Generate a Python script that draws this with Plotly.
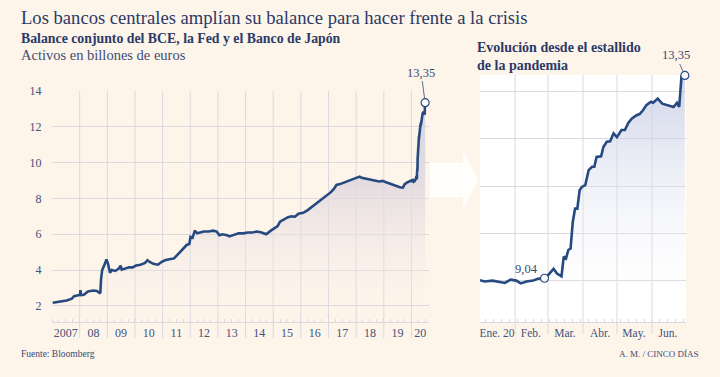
import plotly.graph_objects as go

# ---------------- data ----------------
hist_dates = [
    "2007-01-10", "2007-04-01", "2007-07-15", "2007-09-20", "2007-10-20", "2007-12-15",
    "2008-01-05", "2008-01-12", "2008-01-20", "2008-02-25", "2008-04-20", "2008-07-01",
    "2008-08-15", "2008-09-20", "2008-10-01", "2008-10-10", "2008-10-25", "2008-11-20",
    "2008-12-20", "2009-01-10", "2009-02-05", "2009-03-01", "2009-04-15", "2009-06-01",
    "2009-06-25", "2009-07-10", "2009-09-01", "2009-10-15", "2009-12-01", "2010-01-15",
    "2010-03-15", "2010-05-15", "2010-06-15", "2010-07-15", "2010-09-01", "2010-11-01",
    "2010-12-15", "2011-02-01", "2011-04-01", "2011-06-01", "2011-07-15", "2011-08-15",
    "2011-10-01", "2011-11-15", "2011-12-20", "2012-01-05", "2012-02-01", "2012-03-01",
    "2012-04-01", "2012-05-15", "2012-07-01", "2012-09-01", "2012-11-01", "2012-12-15",
    "2013-01-20", "2013-03-01", "2013-05-01", "2013-06-01", "2013-08-01", "2013-10-01",
    "2013-12-01", "2014-02-01", "2014-04-01", "2014-06-01", "2014-08-01", "2014-10-01",
    "2014-12-01", "2015-01-15", "2015-03-01", "2015-04-01", "2015-06-01", "2015-07-15",
    "2015-09-01", "2015-10-15", "2015-12-01", "2016-02-01", "2016-04-01", "2016-06-01",
    "2016-08-01", "2016-10-01", "2016-12-15", "2017-02-01", "2017-03-15", "2017-04-15",
    "2017-06-01", "2017-08-01", "2017-10-01", "2017-12-01", "2018-01-15", "2018-02-15",
    "2018-03-15", "2018-05-01", "2018-07-01", "2018-09-01", "2018-11-01", "2018-12-15",
    "2019-02-01", "2019-04-01", "2019-06-01", "2019-08-01", "2019-09-10", "2019-10-01",
    "2019-11-01", "2019-12-15",
]
hist_values = [
    2.17, 2.22, 2.30, 2.40, 2.54, 2.60,
    2.62, 2.88, 2.60, 2.62, 2.80, 2.86,
    2.83, 2.72, 2.75, 3.50, 4.00, 4.25,
    4.60, 4.35, 3.85, 4.00, 3.95, 4.08,
    4.25, 4.02, 4.10, 4.15, 4.15, 4.25,
    4.30, 4.40, 4.55, 4.45, 4.35, 4.30,
    4.45, 4.55, 4.60, 4.65, 4.85, 5.00,
    5.20, 5.40, 5.45, 5.85, 5.80, 6.20,
    6.05, 6.10, 6.15, 6.15, 6.20, 6.15,
    5.95, 6.00, 5.95, 5.88, 5.95, 6.05,
    6.05, 6.10, 6.10, 6.15, 6.10, 6.00,
    6.20, 6.35, 6.45, 6.70, 6.85, 6.95,
    7.00, 6.98, 7.15, 7.20, 7.35, 7.55,
    7.75, 7.95, 8.20, 8.35, 8.55, 8.75,
    8.80, 8.90, 9.00, 9.10, 9.20, 9.22,
    9.15, 9.10, 9.05, 9.00, 8.95, 8.98,
    8.90, 8.80, 8.72, 8.62, 8.60, 8.78,
    8.88, 9.00,
]

y2020_dates = [
    "2020-01-01", "2020-01-05", "2020-01-12", "2020-01-17", "2020-01-23", "2020-01-28",
    "2020-02-02", "2020-02-06", "2020-02-11", "2020-02-17", "2020-02-21", "2020-02-27",
    "2020-03-01", "2020-03-06", "2020-03-09", "2020-03-13", "2020-03-15", "2020-03-17",
    "2020-03-19", "2020-03-21", "2020-03-23", "2020-03-25", "2020-03-27", "2020-03-29",
    "2020-03-31", "2020-04-03", "2020-04-06", "2020-04-09", "2020-04-11", "2020-04-13",
    "2020-04-17", "2020-04-19", "2020-04-22", "2020-04-25", "2020-04-28", "2020-05-01",
    "2020-05-05", "2020-05-08", "2020-05-11", "2020-05-14", "2020-05-18", "2020-05-21",
    "2020-05-24", "2020-05-27", "2020-05-31", "2020-06-02", "2020-06-06", "2020-06-10",
    "2020-06-15", "2020-06-20", "2020-06-23", "2020-06-25", "2020-06-27", "2020-06-30",
]
y2020_values = [
    9.00, 8.97, 8.99, 8.96, 8.94, 9.01,
    8.99, 8.93, 8.97, 8.99, 9.03, 9.04,
    9.10, 9.24, 9.14, 9.08, 9.50, 9.46,
    9.64, 9.67, 10.24, 10.52, 10.52, 10.91,
    10.98, 11.02, 11.34, 11.41, 11.41, 11.62,
    11.63, 11.83, 11.94, 11.95, 12.12, 12.04,
    12.19, 12.19, 12.34, 12.43, 12.50, 12.53,
    12.61, 12.72, 12.79, 12.77, 12.86, 12.75,
    12.72, 12.68, 12.77, 12.68, 13.33, 13.35,
]

pandemic_start_date = "2020-02-27"
pandemic_start_value = 9.04
last_date = "2020-06-30"
last_value = 13.35

year_tick_vals = [f"{y}-07-02" for y in range(2007, 2020)] + ["2020-04-27"]
year_tick_text = ["2007"] + [f"{y % 100:02d}" for y in range(2008, 2021)]
year_sep_vals = [f"{y}-01-01" for y in range(2008, 2021)]

month_tick_vals = ["2020-01-16", "2020-02-15", "2020-03-16", "2020-04-16", "2020-05-16", "2020-06-15"]
month_tick_text = ["Ene. 20", "Feb.", "Mar.", "Abr.", "May.", "Jun."]
month_sep_vals = ["2020-02-01", "2020-03-01", "2020-04-01", "2020-05-01", "2020-06-01"]

left_y_ticks = [2, 4, 6, 8, 10, 12, 14]
right_y_ticks = [9, 10, 11, 12, 13]

left_x_range = ["2007-01-01", "2020-08-20"]
right_x_range = ["2020-01-01", "2020-07-01"]
left_y_range = [1.1, 14.0]
right_y_range = [8.11, 13.36]

# ---------------- style ----------------
W, H = 720, 377
BG = "#fdf4ea"
NAVY = "#264a80"
TITLE = "#2b3a67"
TICK = "#45527a"
GRID = "#dcd8de"
FONT = "Liberation Serif, serif"


def px(x):
    return x / W


def py(y):
    return 1 - y / H


LX = [px(52), px(429)]
RX = [px(480), px(686)]
LY = [py(322), py(91)]
RY = [py(322), py(75)]

all_dates = hist_dates + y2020_dates
all_values = hist_values + y2020_values

fig = go.Figure()

fig.add_trace(go.Scatter(
    x=all_dates, y=all_values, mode="lines", xaxis="x", yaxis="y",
    line=dict(color=NAVY, width=2.6), fill="tozeroy",
    fillgradient=dict(type="vertical", start=left_y_range[0], stop=left_y_range[1],
                      colorscale=[[0, "rgba(253,244,234,0.0)"], [0.6, "rgba(222,214,222,0.8)"],
                                  [1, "rgba(205,209,228,0.9)"]]),
    hoverinfo="skip", showlegend=False,
))
fig.add_trace(go.Scatter(
    x=[last_date], y=[last_value], mode="markers", xaxis="x", yaxis="y",
    marker=dict(size=8, color="white", line=dict(color=NAVY, width=1.2)),
    cliponaxis=False, showlegend=False, hoverinfo="skip",
))

fig.add_trace(go.Scatter(
    x=y2020_dates, y=y2020_values, mode="lines", xaxis="x2", yaxis="y2",
    line=dict(color=NAVY, width=2.6), fill="tozeroy",
    fillgradient=dict(type="vertical", start=right_y_range[0], stop=right_y_range[1],
                      colorscale=[[0, "rgba(255,255,255,0)"], [1, "rgba(190,197,224,0.75)"]]),
    hoverinfo="skip", showlegend=False,
))
fig.add_trace(go.Scatter(
    x=[pandemic_start_date, last_date], y=[pandemic_start_value, last_value], mode="markers",
    xaxis="x2", yaxis="y2",
    marker=dict(size=8, color="white", line=dict(color=NAVY, width=1.2)),
    cliponaxis=False, showlegend=False, hoverinfo="skip",
))

fig.update_layout(
    width=W, height=H, margin=dict(l=0, r=0, t=0, b=0),
    paper_bgcolor=BG, plot_bgcolor="rgba(0,0,0,0)",
    font=dict(family=FONT, color=TITLE),
    xaxis=dict(
        domain=LX, range=left_x_range, type="date", automargin=False,
        tickmode="array", tickvals=year_tick_vals, ticktext=year_tick_text,
        ticks="", showgrid=False, tickfont=dict(family=FONT, size=12, color=TICK), anchor="y",
        showline=True, linecolor=GRID, linewidth=1, zeroline=False,
        minor=dict(tickmode="linear", tick0="2007-01-01", dtick="M3",
                   ticks="inside", ticklen=3, tickcolor=GRID, showgrid=False),
    ),
    yaxis=dict(
        domain=LY, range=left_y_range, automargin=False,
        tickmode="array", tickvals=left_y_ticks, showgrid=True, gridcolor=GRID, gridwidth=1,
        ticks="outside", ticklen=7, tickcolor="rgba(0,0,0,0)",
        tickfont=dict(family=FONT, size=12, color=TICK),
        zeroline=False, anchor="x",
    ),
    xaxis2=dict(
        domain=RX, range=right_x_range, type="date", automargin=False,
        tickmode="array", tickvals=month_tick_vals, ticktext=month_tick_text,
        ticks="", showgrid=False, tickfont=dict(family=FONT, size=11.5, color=TICK), anchor="y2",
        showline=True, linecolor=GRID, linewidth=1, zeroline=False,
        minor=dict(tickmode="linear", tick0="2020-01-06", dtick=7 * 24 * 3600 * 1000,
                   ticks="inside", ticklen=3, tickcolor=GRID, showgrid=False),
    ),
    yaxis2=dict(
        domain=RY, range=right_y_range, automargin=False,
        tickmode="array", tickvals=right_y_ticks, showgrid=True, gridcolor=GRID, gridwidth=1,
        showticklabels=False, ticks="", zeroline=False, anchor="x2",
    ),
)

shapes = []
# white background of the right panel
shapes.append(dict(type="rect", xref="x2 domain", yref="y2 domain", x0=0, x1=1, y0=0, y1=1,
                   fillcolor="white", line=dict(width=0), layer="below"))
# year separators (extend into the label band)
for d in year_sep_vals:
    shapes.append(dict(type="line", xref="x", yref="y domain", x0=d, x1=d, y0=-16 / 231, y1=1,
                       line=dict(color=GRID, width=1), layer="below"))
# month separators
for d in month_sep_vals:
    shapes.append(dict(type="line", xref="x2", yref="y2 domain", x0=d, x1=d, y0=-12 / 247, y1=1,
                       line=dict(color=GRID, width=1), layer="below"))
# arrow between the panels
arrow_path = (f"M {px(430)},{py(163)} L {px(463)},{py(163)} L {px(463)},{py(150)} "
              f"L {px(478)},{py(180)} L {px(463)},{py(210)} L {px(463)},{py(197)} "
              f"L {px(430)},{py(197)} Z")
shapes.append(dict(type="path", xref="paper", yref="paper", path=arrow_path,
                   fillcolor="rgba(255,255,255,0.85)", line=dict(width=0), layer="below"))

SUB = "#3a4a6e"
ann = []
ann.append(dict(xref="paper", yref="paper", x=px(19), y=py(18), xanchor="left", yanchor="middle",
                text="Los bancos centrales amplían su balance para hacer frente a la crisis",
                showarrow=False, font=dict(family=FONT, size=18.6, color=TITLE)))
ann.append(dict(xref="paper", yref="paper", x=px(19), y=py(39), xanchor="left", yanchor="middle",
                text="<b>Balance conjunto del BCE, la Fed y el Banco de Japón</b>",
                showarrow=False, font=dict(family=FONT, size=13.8, color=TITLE)))
ann.append(dict(xref="paper", yref="paper", x=px(19), y=py(55), xanchor="left", yanchor="middle",
                text="Activos en billones de euros",
                showarrow=False, font=dict(family=FONT, size=14.5, color="#3f4d75")))
ann.append(dict(xref="paper", yref="paper", x=px(475), y=py(56), xanchor="left", yanchor="middle",
                text="<b>Evolución desde el estallido<br>de la pandemia</b>", align="left",
                showarrow=False, font=dict(family=FONT, size=14, color=TITLE)))
ann.append(dict(xref="paper", yref="paper", x=px(19), y=py(354), xanchor="left", yanchor="middle",
                text="Fuente: Bloomberg", showarrow=False,
                font=dict(family=FONT, size=9.5, color=SUB)))
ann.append(dict(xref="paper", yref="paper", x=px(701), y=py(354), xanchor="right", yanchor="middle",
                text="A. M. / CINCO DÍAS", showarrow=False,
                font=dict(family=FONT, size=9, color=SUB)))
# value labels
ann.append(dict(xref="x", yref="y", x=last_date, y=last_value, text="13,35",
                showarrow=True, arrowhead=0, arrowwidth=0.8, arrowcolor=SUB,
                ax=-4, ay=-30, standoff=4, font=dict(family=FONT, size=12.5, color=SUB)))
ann.append(dict(xref="x2", yref="y2", x=last_date, y=last_value, text="13,35",
                showarrow=True, arrowhead=0, arrowwidth=0.8, arrowcolor=SUB,
                ax=-9, ay=-20, standoff=4, font=dict(family=FONT, size=12.5, color=SUB)))
ann.append(dict(xref="x2", yref="y2", x=pandemic_start_date, y=pandemic_start_value, text="9,04",
                showarrow=False, xshift=-18, yshift=9,
                font=dict(family=FONT, size=12.5, color=SUB)))
fig.update_layout(annotations=ann, shapes=shapes)

fig.write_html("out.html", config={"displayModeBar": False},
               post_script="document.body.style.margin='0px';")
